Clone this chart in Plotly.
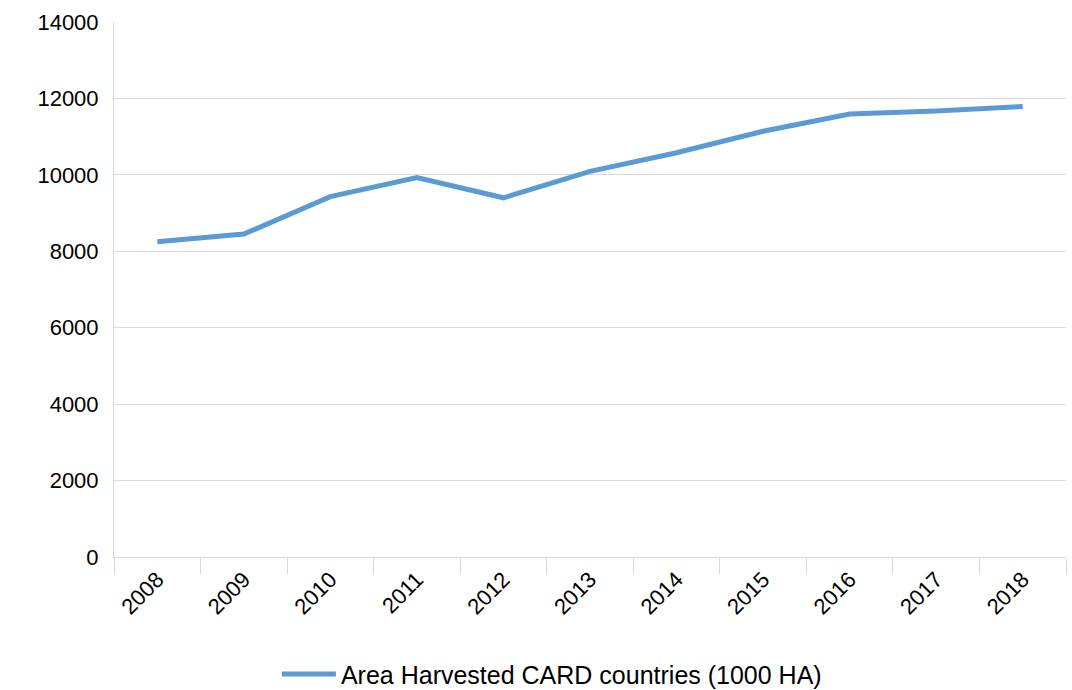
import plotly.graph_objects as go

years = ["2008", "2009", "2010", "2011", "2012", "2013", "2014", "2015", "2016", "2017", "2018"]
area = [8250, 8450, 9430, 9930, 9400, 10090, 10580, 11140, 11590, 11670, 11790]
series_name = "Area Harvested CARD countries (1000 HA)"

fig = go.Figure()
fig.add_trace(go.Scatter(
    x=years, y=area, mode="lines", name=series_name,
    line=dict(color="#5B9BD5", width=5),
))

font_family = "Liberation Sans, Arial, sans-serif"
fig.update_layout(
    width=1072, height=690,
    margin=dict(l=114, r=6, t=22, b=133, autoexpand=False),
    paper_bgcolor="white", plot_bgcolor="white",
    font=dict(family=font_family, size=22, color="#000000"),
    showlegend=True,
    legend=dict(orientation="h", x=0.46, xanchor="center", y=-0.219, yanchor="middle",
                font=dict(size=25), itemwidth=54),
)
fig.update_xaxes(
    type="category", range=[-0.5, 10.5], automargin=False,
    tickson="boundaries", ticks="outside", ticklen=16, tickcolor="#d9d9d9",
    showline=True, linecolor="#d9d9d9", linewidth=1,
    showgrid=False, tickangle=-45, tickfont=dict(size=22),
)
fig.update_yaxes(
    range=[0, 14000], dtick=2000, tickformat="d", automargin=False,
    showgrid=True, gridcolor="#d9d9d9", gridwidth=1,
    showline=True, linecolor="#d9d9d9", linewidth=1, zeroline=False,
    ticks="", tickfont=dict(size=22), ticklabelstandoff=10,
)
fig.write_html("out.html", config={"displayModeBar": False},
               post_script="document.body.style.margin='0';document.body.style.overflow='hidden';")
